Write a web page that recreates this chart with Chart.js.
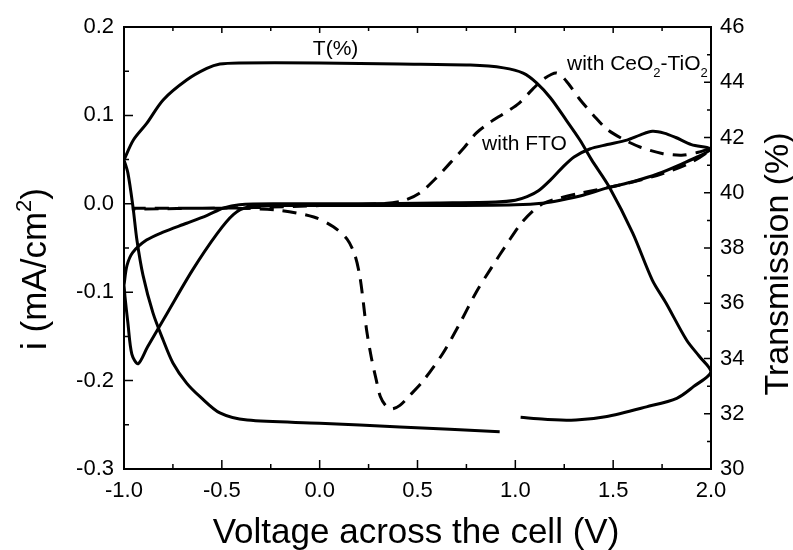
<!DOCTYPE html>
<html>
<head>
<meta charset="utf-8">
<script src="https://cdn.jsdelivr.net/npm/chart.js@4.4.1/dist/chart.umd.min.js"></script>
<style>
  html, body { margin: 0; padding: 0; background: #fff; }
  #wrap { width: 793px; height: 550px; }
</style>
</head>
<body>
<div id="wrap"><canvas id="c" width="793" height="550"></canvas></div>
<script>
// Cyclic voltammograms (left axis) and in-situ transmission (right axis)

// Bare FTO electrode: voltage (V) and current density (mA/cm2)
const ftoV = [-1.000, -0.985, -0.955, -0.885, -0.800, -0.680, -0.575, -0.495, -0.410, -0.200, 0.200, 0.600, 0.900,
  1.000, 1.060, 1.120, 1.180, 1.240, 1.300, 1.380, 1.470, 1.570, 1.640, 1.700, 1.760, 1.820, 1.900, 2.000,
  1.930, 1.860, 1.730, 1.600, 1.470, 1.350, 1.230, 1.150, 1.000, 0.600, 0.200, -0.200, -0.370,
  -0.440, -0.525, -0.650, -0.780, -0.880, -0.928, -0.960, -0.980, -0.995, -1.000];
const ftoI = [-0.092, -0.070, -0.055, -0.041, -0.032, -0.022, -0.013, -0.005, -0.001, 0.000, 0.000, 0.001, 0.002,
  0.004, 0.008, 0.015, 0.027, 0.041, 0.053, 0.062, 0.067, 0.072, 0.078, 0.082, 0.080, 0.075, 0.067, 0.062,
  0.053, 0.046, 0.034, 0.025, 0.018, 0.010, 0.004, 0.001, -0.001, -0.002, -0.002, -0.002, -0.004,
  -0.012, -0.034, -0.075, -0.124, -0.162, -0.181, -0.170, -0.135, -0.105, -0.092];

// CeO2-TiO2 counter electrode
const ceoV = [-0.960, -0.600, -0.300, 0.000, 0.300, 0.420, 0.510, 0.590, 0.666, 0.740, 0.800, 0.870, 0.940,
  1.020, 1.090, 1.150, 1.210, 1.260, 1.330, 1.400, 1.470, 1.560, 1.640, 1.750, 1.850, 1.930, 2.000,
  1.900, 1.750, 1.550, 1.330, 1.200, 1.140, 1.090, 1.030, 0.970, 0.870, 0.800, 0.717, 0.630, 0.530,
  0.460, 0.410, 0.370, 0.340, 0.310, 0.290, 0.265, 0.240, 0.225, 0.206, 0.180, 0.140, 0.070, -0.030,
  -0.220, -0.500, -0.960];
const ceoI = [-0.005, -0.005, -0.004, -0.002, 0.000, 0.003, 0.012, 0.028, 0.046, 0.064, 0.080, 0.092, 0.102,
  0.114, 0.130, 0.142, 0.148, 0.139, 0.118, 0.100, 0.084, 0.072, 0.064, 0.057, 0.055, 0.058, 0.062,
  0.047, 0.034, 0.022, 0.012, 0.005, 0.000, -0.008, -0.022, -0.041, -0.075, -0.100, -0.135, -0.169, -0.200,
  -0.217, -0.228, -0.232, -0.229, -0.218, -0.200, -0.175, -0.143, -0.115, -0.083, -0.058, -0.040, -0.026, -0.015,
  -0.007, -0.005, -0.006];

// Transmission (%) over the same voltage sweep; null marks the break in the record
const tV = [-1.000, -0.952, -0.884, -0.800, -0.680, -0.577, -0.510, -0.410, 0.000, 0.410, 0.770, 0.940, 1.040,
  1.110, 1.180, 1.260, 1.330, 1.390, 1.480, 1.600, 1.700, 1.770, 1.875, 1.940, 2.000,
  1.910, 1.825, 1.670, 1.460, 1.310, 1.150, 1.027, 0.970,
  0.920, 0.410, 0.000, -0.370, -0.510, -0.610, -0.680, -0.750, -0.800, -0.852, -0.903, -0.934, -0.954, -0.980, -1.000];
const tT = [41.19, 41.91, 42.51, 43.36, 44.08, 44.50, 44.66, 44.70, 44.70, 44.66, 44.62, 44.52, 44.33,
  43.97, 43.43, 42.63, 41.91, 41.19, 40.21, 38.54, 36.84, 36.01, 34.67, 34.08, 33.52,
  32.98, 32.56, 32.25, 31.89, 31.77, 31.80, 31.87, null,
  31.35, 31.52, 31.66, 31.77, 32.03, 32.61, 33.11, 33.84, 34.67, 35.65, 37.02, 38.29, 39.48, 40.71, 41.19];

// Axis ranges and tick labels
const xTicks = [-1.0, -0.5, 0.0, 0.5, 1.0, 1.5, 2.0];
const iTicks = [-0.3, -0.2, -0.1, 0.0, 0.1, 0.2];
const tTicks = [30, 32, 34, 36, 38, 40, 42, 44, 46];

const FAMILY = "'Liberation Sans', Arial, Helvetica, sans-serif";

const pairs = (xs, ys) => xs.map((x, k) => ({ x: x, y: ys[k] }));

function drawRich(ctx, parts, x, y, size, align) {
  const small = Math.round(size * 0.62);
  const widths = parts.map(([t, m]) => {
    ctx.font = (m ? small : size) + 'px ' + FAMILY;
    return ctx.measureText(t).width;
  });
  const total = widths.reduce((s, w) => s + w, 0);
  let cx = align === 'center' ? x - total / 2 : x;
  parts.forEach(([t, m], k) => {
    ctx.font = (m ? small : size) + 'px ' + FAMILY;
    const dy = m === 1 ? -size * 0.42 : (m === -1 ? size * 0.32 : 0);
    ctx.fillText(t, cx, y + dy);
    cx += widths[k];
  });
}

const frameAndText = {
  id: 'frameAndText',
  beforeDraw(chart) {
    const { ctx } = chart;
    ctx.save();
    ctx.fillStyle = '#fff';
    ctx.fillRect(0, 0, chart.width, chart.height);
    ctx.restore();
  },
  afterDraw(chart) {
    const { ctx, chartArea: a, scales } = chart;
    ctx.save();
    ctx.strokeStyle = '#000';
    ctx.fillStyle = '#000';

    // inward major and minor tick marks
    ctx.lineWidth = 1.5;
    const majorLen = 9, minorLen = 5;
    const withMinors = (vals) => {
      const out = [];
      for (let k = 0; k < vals.length; k++) {
        out.push([vals[k], true]);
        if (k < vals.length - 1) out.push([(vals[k] + vals[k + 1]) / 2, false]);
      }
      return out;
    };
    ctx.beginPath();
    withMinors(scales.x.ticks.map(t => t.value)).forEach(([v, major]) => {
      const px = scales.x.getPixelForValue(v);
      const len = major ? majorLen : minorLen;
      ctx.moveTo(px, a.bottom); ctx.lineTo(px, a.bottom - len);
      ctx.moveTo(px, a.top); ctx.lineTo(px, a.top + (major ? 6 : 4));
    });
    withMinors(scales.y.ticks.map(t => t.value)).forEach(([v, major]) => {
      const py = scales.y.getPixelForValue(v);
      ctx.moveTo(a.left, py); ctx.lineTo(a.left + (major ? majorLen : minorLen), py);
    });
    withMinors(scales.y1.ticks.map(t => t.value)).forEach(([v, major]) => {
      const py = scales.y1.getPixelForValue(v);
      ctx.moveTo(a.right, py); ctx.lineTo(a.right - (major ? 7 : 4), py);
    });
    ctx.stroke();

    // plot frame
    ctx.lineWidth = 2;
    ctx.strokeRect(a.left, a.top, a.right - a.left, a.bottom - a.top);

    // axis titles
    ctx.textBaseline = 'alphabetic';
    drawRich(ctx, [['Voltage across the cell (V)', 0]], 416, 543, 35, 'center');

    ctx.save();
    ctx.translate(46, 269);
    ctx.rotate(-Math.PI / 2);
    drawRich(ctx, [['i (mA/cm', 0], ['2', 1], [')', 0]], 0, 0, 35, 'center');
    ctx.restore();

    ctx.save();
    ctx.translate(788, 264);
    ctx.rotate(-Math.PI / 2);
    drawRich(ctx, [['Transmission (%)', 0]], 0, 0, 34, 'center');
    ctx.restore();

    // curve labels, anchored in data coordinates
    const at = (v, i) => [scales.x.getPixelForValue(v), scales.y.getPixelForValue(i)];
    let p = at(-0.035, 0.168);
    drawRich(ctx, [['T(%)', 0]], p[0], p[1], 21, 'left');
    p = at(1.264, 0.151);
    drawRich(ctx, [['with CeO', 0], ['2', -1], ['-TiO', 0], ['2', -1]], p[0], p[1], 21, 'left');
    p = at(0.830, 0.061);
    drawRich(ctx, [['with FTO', 0]], p[0], p[1], 21, 'left');

    ctx.restore();
  }
};

const tickFont = { family: FAMILY, size: 22 };

new Chart(document.getElementById('c'), {
  type: 'scatter',
  data: {
    datasets: [
      {
        label: 'T(%)',
        data: pairs(tV, tT),
        yAxisID: 'y1',
        showLine: true,
        borderColor: '#000',
        borderWidth: 3,
        pointRadius: 0,
        tension: 0.3,
        spanGaps: false
      },
      {
        label: 'with FTO',
        data: pairs(ftoV, ftoI),
        yAxisID: 'y',
        showLine: true,
        borderColor: '#000',
        borderWidth: 3,
        pointRadius: 0,
        tension: 0.3
      },
      {
        label: 'with CeO2-TiO2',
        data: pairs(ceoV, ceoI),
        yAxisID: 'y',
        showLine: true,
        borderColor: '#000',
        borderWidth: 3,
        borderDash: [14, 9],
        pointRadius: 0,
        tension: 0.3
      }
    ]
  },
  options: {
    responsive: false,
    animation: false,
    layout: { padding: { top: 27, left: 0, right: 0, bottom: 0 } },
    plugins: { legend: { display: false }, tooltip: { enabled: false } },
    scales: {
      x: {
        type: 'linear',
        min: xTicks[0],
        max: xTicks[xTicks.length - 1],
        afterFit: s => { s.height = 81; },
        afterBuildTicks: s => { s.ticks = xTicks.map(v => ({ value: v })); },
        grid: { display: false, drawTicks: false },
        border: { display: false },
        ticks: { color: '#000', font: tickFont, padding: 9, maxRotation: 0, callback: v => v.toFixed(1) }
      },
      y: {
        type: 'linear',
        position: 'left',
        min: iTicks[0],
        max: iTicks[iTicks.length - 1],
        afterFit: s => { s.width = 124; },
        afterBuildTicks: s => { s.ticks = iTicks.map(v => ({ value: v })); },
        grid: { display: false, drawTicks: false },
        border: { display: false },
        ticks: { color: '#000', font: tickFont, padding: 10, callback: v => v.toFixed(1) }
      },
      y1: {
        type: 'linear',
        position: 'right',
        min: tTicks[0],
        max: tTicks[tTicks.length - 1],
        afterFit: s => { s.width = 82; },
        afterBuildTicks: s => { s.ticks = tTicks.map(v => ({ value: v })); },
        grid: { display: false, drawTicks: false },
        border: { display: false },
        ticks: { color: '#000', font: tickFont, padding: 9, callback: v => String(v) }
      }
    }
  },
  plugins: [frameAndText]
});
</script>
</body>
</html>
